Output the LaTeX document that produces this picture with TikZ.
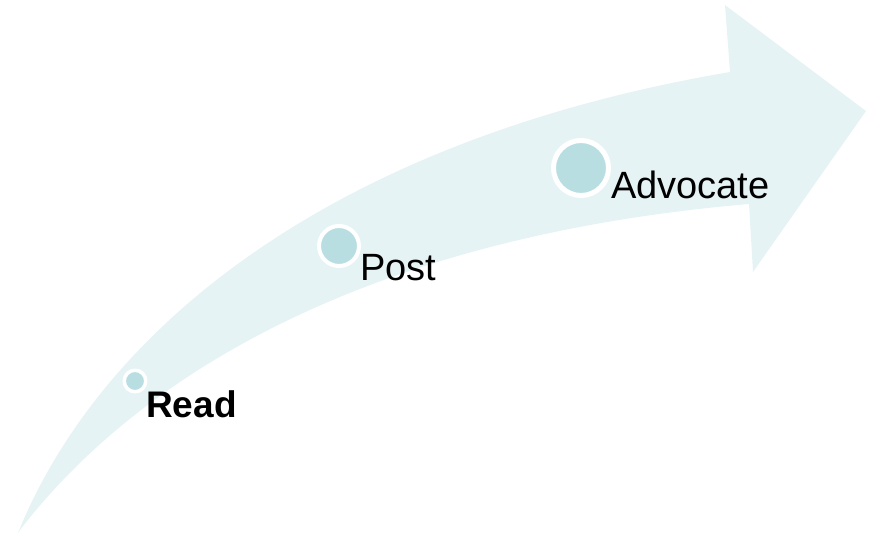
\documentclass[tikz,border=0pt]{standalone}
\usepackage{fontspec}
\setmainfont{Liberation Sans}
\definecolor{arrowbg}{RGB}{230,243,245}
\definecolor{dotfill}{RGB}{185,222,226}
\begin{document}
\begin{tikzpicture}[line cap=round,line join=round,x=1pt,y=-1pt,
	dot/.style={circle,fill=dotfill,draw=white,inner sep=0pt},
	lbl/.style={anchor=base west,inner sep=0pt,text=black,font=\fontsize{38}{45}\selectfont}]
		\useasboundingbox (0,0) rectangle (876,535);
		% curved arrow
		\fill[arrowbg] (18,533) .. controls (100,330) and (330,140) .. (730,72)
			-- (725,5) -- (866,111) -- (753,272) -- (749,204)
			.. controls (330,240) and (120,400) .. (20,530) -- cycle;
		% steps
		\node[dot,minimum size=21.5pt,line width=3.5pt] (readdot) at (135,381) {};
		\node[dot,minimum size=40pt,line width=4pt] (postdot) at (339,246) {};
		\node[dot,minimum size=55pt,line width=5pt] (advdot) at (581,168) {};
		\node[lbl,font=\fontsize{37}{44}\selectfont\bfseries] (read) at (146,417) {Read};
		\node[lbl] (post) at (360,280) {Post};
		\node[lbl] (advocate) at (611,198) {Advocate};
	\end{tikzpicture}
\end{document}
